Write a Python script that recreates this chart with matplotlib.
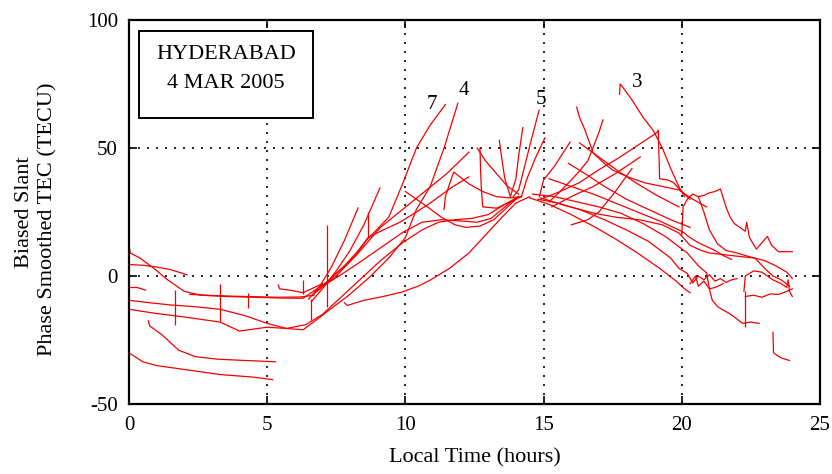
import matplotlib
matplotlib.use("Agg")
import matplotlib.pyplot as plt
from matplotlib.patches import Rectangle

plt.rcParams['font.family'] = ['Liberation Serif', 'DejaVu Serif']
plt.rcParams['axes.unicode_minus'] = False

# ---- pass data: local time (h) and biased slant TEC (TECU) ----
# night / early morning passes
n1_t = [0.0, 0.5, 1.0, 2.0, 3.3, 4.5, 5.2]
n1_v = [-30, -33.5, -35, -36.5, -38.5, -39.5, -40.5]
n2_t = [0.7, 0.75, 1.2, 1.8, 2.4, 3.2, 4.2, 5.3]
n2_v = [-17.5, -19.5, -23, -29, -31.5, -32.5, -33, -33.5]
n3_t = [0.0, 0.05, 0.4, 0.9, 1.4, 2.0, 2.6, 3.5, 4.5, 5.5, 6.3, 6.8, 7.2,
        7.7, 8.2, 8.6, 9.0, 9.4, 9.9, 10.4, 10.9, 11.45]
n3_v = [12, 9, 7, 3, -1.5, -6, -7.5, -8, -8.3, -8.6, -8.7, -5, -2,
        3, 8, 14, 18.5, 23, 36, 50, 59, 67]
n4_t = [0.0, 0.5, 1.0, 1.5, 2.1]
n4_v = [4.5, 4.2, 3.5, 2.5, 0.5]
n5_t = [0.0, 0.3, 0.6]
n5_v = [-4.5, -4.5, -5.5]
n6_t = [0.0, 0.8, 1.5, 2.4, 3.3, 4.2, 5.0, 5.7, 6.3, 6.8, 7.4, 7.9, 8.7,
        9.4, 10.0, 10.4, 10.9, 11.4, 11.9]
n6_v = [-9.5, -10.5, -11.3, -12, -13, -15.5, -18.5, -20.5, -21, -17, -12, -8, -0.5,
        7, 15, 26, 35, 50, 67.5]
n7_t = [0.0, 0.9, 2.0, 3.3, 4.0, 5.0, 5.7, 6.4, 7.0, 7.6, 8.3, 9.1, 9.9,
        10.6, 11.2, 11.8, 12.4, 13.0, 13.6, 14.1]
n7_v = [-13, -14.5, -16, -18, -21.5, -20, -20.5, -19, -15, -9, -2, 6, 13,
        18, 21, 22, 22.5, 24, 28, 31]
n8_t = [5.4, 5.45, 5.8, 6.3, 6.6, 7.0]
n8_v = [-3.5, -5, -5.5, -6.5, -5, -3]
n9_t = [2.2, 3.0, 3.8, 4.6, 5.4, 6.2, 6.7]
n9_v = [-7.2, -7.6, -7.9, -8.1, -8.3, -8.2, -7.5]

# morning rising passes
m1_t = [6.6, 7.0, 7.5, 8.0, 8.5, 9.08]
m1_v = [-10, -5, 2, 10, 20, 34.4]
m2_t = [6.5, 6.9, 7.3, 7.8, 8.29]
m2_v = [-9, -4, 3, 14, 26.6]
m3_t = [6.7, 7.2, 7.8, 8.3, 8.65, 9.2, 9.8, 10.4, 10.9, 11.7, 12.3]
m3_v = [-7, -2, 4, 10, 15, 18, 21, 25, 28.5, 34.8, 38.7]
m4_t = [6.8, 7.5, 8.3, 9.1, 9.9, 10.7, 11.5, 12.3]
m4_v = [-6, 0, 9, 19, 26, 33, 40, 48.4]
m5_t = [7.8, 7.9, 8.5, 9.2, 9.9, 10.5, 10.9, 11.6, 12.3, 12.9, 13.5, 14.0, 14.5]
m5_v = [-10.5, -11.5, -9.5, -8, -6.2, -3.8, -1.6, 3, 9, 16, 23, 28.5, 31]
m6_t = [10.0, 10.4, 10.8, 11.3, 11.8, 12.2, 12.7, 13.2, 13.7, 14.1]
m6_v = [33, 30, 27, 23, 20, 19, 19.5, 22, 27, 31]
m7_t = [7.0, 7.6, 8.3, 9.1, 9.9, 10.6, 11.3, 12.0, 12.6, 13.1, 13.6, 14.0]
m7_v = [-4, 0, 5, 11, 17, 21, 22, 21.5, 21, 22.5, 27, 30.5]
m8_t = [11.4, 11.45, 11.6, 11.75, 12.3, 12.8, 13.3, 13.8, 14.2]
m8_v = [26, 31, 36, 40.6, 36, 33, 31, 30.5, 31]
m9_t = [12.6, 12.9, 13.3, 13.7, 14.1]
m9_v = [50, 45, 40, 35, 32]
m10_t = [12.7, 12.72, 12.75, 12.8, 13.3, 13.8, 14.2]
m10_v = [50, 42, 34, 27, 26.5, 29, 31]

# short passes peaking above the noon hump
h1_t = [13.9, 14.1, 14.4, 14.6, 14.84]
h1_v = [31, 33.6, 46.5, 55, 64.8]
h2_t = [13.8, 14.0, 14.1, 14.25]
h2_v = [31, 38, 47, 58]
h3_t = [13.4, 13.5, 13.6, 13.8]
h3_v = [53, 45, 38, 31]
h4_t = [14.2, 14.4, 14.7, 15.05]
h4_v = [31, 38, 46, 54]

# afternoon / evening passes
d1_t = [14.5, 15.2, 16.0, 16.8, 17.6, 18.4, 19.2, 19.8, 20.1, 20.3]
d1_v = [30.5, 28, 24, 19.5, 14.5, 9, 3, -2, -5, -6.5]
d2_t = [14.8, 15.5, 16.3, 17.2, 18.0, 18.8, 19.6, 19.9, 20.2, 20.4, 20.6,
        20.8, 21.0, 21.2, 21.4, 21.6, 21.8, 22.0]
d2_v = [30, 28.5, 26, 22, 18, 13.5, 7, 3, 1, -2.7, 0,
        -1.5, 0.5, -2, -1, -2.5, -1.5, -1]
d3_t = [14.6, 15.4, 16.2, 17.0, 17.8, 18.6, 19.4, 20.2, 20.6, 20.9, 21.0, 21.1,
        21.3, 21.5, 21.7, 21.9, 22.2, 22.5, 22.8]
d3_v = [32, 31, 29, 27, 24.5, 20.5, 15.5, 9, 4, 1.2, -5, -9.4,
        -12, -13.3, -14.5, -16, -18.5, -18, -18.5]
d4_t = [15.2, 16.0, 16.8, 17.6, 18.4, 19.2, 20.0, 20.3, 20.6, 20.9, 21.2, 21.5, 21.8]
d4_v = [38, 35, 32, 28.5, 25, 21.5, 17.5, 15, 13, 11.5, 10, 8, 6.5]
d5_t = [16.2, 16.3, 16.5, 16.8, 17.2, 17.5, 18.1, 18.7, 19.3, 19.9, 20.4, 20.9]
d5_v = [66, 62, 57, 48, 44, 41.4, 38.5, 36.3, 35, 33.6, 30, 27]
d6_t = [16.3, 17.0, 17.7, 18.4, 19.1, 19.9]
d6_v = [52, 46.5, 41, 36, 31.5, 27]
d7_t = [14.9, 15.8, 16.8, 17.6, 18.5, 19.3, 19.9, 20.3, 20.7, 21.0, 21.4,
        21.8, 22.2, 22.65, 23.0, 23.4, 23.8, 24.0]
d7_v = [30.5, 27.5, 24.6, 23, 21.9, 20, 16.8, 12, 10, 9, 8.5,
        8, 7.5, 7, 6, 4, 1.5, -1]
d8_t = [15.9, 16.5, 17.2, 18.0, 18.8, 19.6, 20.3]
d8_v = [44, 40, 35, 30, 26, 22, 19]
u1_t = [14.85, 15.0, 15.4, 15.7, 15.96]
u1_v = [31, 37.5, 43, 48, 52.3]
u2_t = [14.9, 15.6, 16.3, 17.0, 17.7, 18.4, 19.1, 19.15, 19.2, 19.5, 19.7, 20.0, 20.3]
u2_v = [30, 33, 36.5, 41.5, 46, 51, 56, 57, 38, 37.5, 36.5, 33, 30]
u3_t = [15.2, 15.6, 16.0, 16.3, 16.6, 16.8, 17.0, 17.15]
u3_v = [29, 33, 37.5, 41, 45, 50.4, 56, 61]
u4_t = [16.0, 16.6, 17.0, 17.6, 18.2]
u4_v = [20, 22, 25, 33, 42]
u5_t = [15.3, 16.0, 16.8, 17.6, 18.5]
u5_v = [27, 31, 35, 40, 46.5]
p3_t = [17.75, 17.77, 17.85, 18.2, 18.6, 18.96, 19.3, 19.6, 19.9, 20.1]
p3_v = [71, 75, 74, 68.8, 62, 57, 50, 42, 34.8, 31]

r1_t = [20.0, 20.05, 20.2, 20.4, 20.6, 20.8, 21.0, 21.2, 21.4, 21.6, 21.75, 21.9,
        22.1, 22.3, 22.35, 22.45, 22.7, 22.9, 23.1, 23.25, 23.5, 23.8, 24.0]
r1_v = [16, 27, 30, 32, 31, 31.5, 32.5, 33, 34, 27, 23, 20.5,
        19, 17.5, 21, 15, 10.5, 13, 15.5, 12, 9.5, 9.5, 9.5]
r2_t = [20.6, 20.8, 21.0, 21.3, 21.6, 22.0, 22.3, 22.65, 23.0, 23.3, 23.6, 23.9]
r2_v = [31, 25, 18, 12.5, 10, 9, 8, 7, 3, 0, -1.5, -4]
r3_t = [20.3, 20.5, 20.6, 20.8, 21.0, 21.2, 21.5]
r3_v = [-3, 0, -4, -2, -5, -4.5, -3]
r4_t = [22.25, 22.3, 22.6, 22.9, 23.3, 23.6, 23.8, 23.85, 23.9, 24.0]
r4_v = [-6, 0, 2, 1.5, -1.5, -3, -4.5, -1.5, -6, -8]
r5_t = [22.3, 22.6, 22.9, 23.2, 23.5, 23.8, 24.0]
r5_v = [-8, -7.5, -8.3, -7, -7.2, -6, -5]
r6_t = [23.3, 23.32, 23.45, 23.6, 23.9]
r6_v = [-22, -30, -31, -32, -33]

# cycle-slip like vertical jumps: time, low, high
jump_t = [1.65, 3.3, 4.3, 6.3, 6.6, 7.17, 8.65, 22.28]
jump_lo = [-19, -18, -12.5, -7, -17, -12, 15, -20]
jump_hi = [-5.5, -3, -6.5, -1.5, -9, 20, 25, -6]

# PRN labels
prn_labels = ['7', '4', '5', '3']
prn_t = [10.95, 12.1, 14.9, 18.4]
prn_v = [67, 72.5, 69, 75.5]

passes = [(n1_t, n1_v), (n2_t, n2_v), (n3_t, n3_v), (n4_t, n4_v), (n5_t, n5_v),
          (n6_t, n6_v), (n7_t, n7_v), (n8_t, n8_v), (n9_t, n9_v),
          (m1_t, m1_v), (m2_t, m2_v), (m3_t, m3_v), (m4_t, m4_v), (m5_t, m5_v),
          (m6_t, m6_v), (m7_t, m7_v), (m8_t, m8_v), (m9_t, m9_v), (m10_t, m10_v),
          (h1_t, h1_v), (h2_t, h2_v), (h3_t, h3_v), (h4_t, h4_v),
          (d1_t, d1_v), (d2_t, d2_v), (d3_t, d3_v), (d4_t, d4_v), (d5_t, d5_v),
          (d6_t, d6_v), (d7_t, d7_v), (d8_t, d8_v),
          (u1_t, u1_v), (u2_t, u2_v), (u3_t, u3_v), (u4_t, u4_v), (u5_t, u5_v),
          (p3_t, p3_v),
          (r1_t, r1_v), (r2_t, r2_v), (r3_t, r3_v), (r4_t, r4_v), (r5_t, r5_v),
          (r6_t, r6_v)]

fig = plt.figure(figsize=(8.32, 4.74), dpi=100)
ax = fig.add_axes([0.155, 0.1477, 0.8305, 0.81])

red = '#f20000'
for t, v in passes:
    ax.plot(t, v, color=red, lw=0.9, zorder=2)
ax.vlines(jump_t, jump_lo, jump_hi, color=red, lw=0.9, zorder=2)

ax.set_xlim(0, 25)
ax.set_ylim(-50, 100)
ax.set_xticks([0, 5, 10, 15, 20, 25])
ax.set_yticks([-50, 0, 50, 100])
ax.grid(True, color='black', linestyle=(0, (1.2, 4.2)), lw=1.2)
ax.set_axisbelow(True)
ax.tick_params(direction='in', length=6, width=1.2, labelsize=15,
               top=True, right=True)
ax.tick_params(axis='x', pad=9)
ax.tick_params(axis='y', pad=8)
for s in ax.spines.values():
    s.set_linewidth(1.6)

ax.set_xlabel('Local Time (hours)', fontsize=16, labelpad=9)
fig.text(25 / 832, 0.553, 'Biased Slant', rotation=90, ha='center', va='center',
         fontsize=16)
fig.text(48 / 832, 0.537, 'Phase Smoothed TEC (TECU)', rotation=90, ha='center',
         va='center', fontsize=16)

# station box
ax.add_patch(Rectangle((0.37, 61.6), 6.3, 34.2, facecolor='white',
                       edgecolor='black', lw=1.4, zorder=3))
ax.text(3.52, 86.6, 'HYDERABAD', ha='center', va='center', fontsize=16, zorder=4)
ax.text(3.52, 75.3, '4 MAR 2005', ha='center', va='center', fontsize=16, zorder=4)

for lab, t, v in zip(prn_labels, prn_t, prn_v):
    ax.text(t, v, lab, ha='center', va='center', fontsize=15, zorder=4)

fig.savefig('out.png', dpi=100)
